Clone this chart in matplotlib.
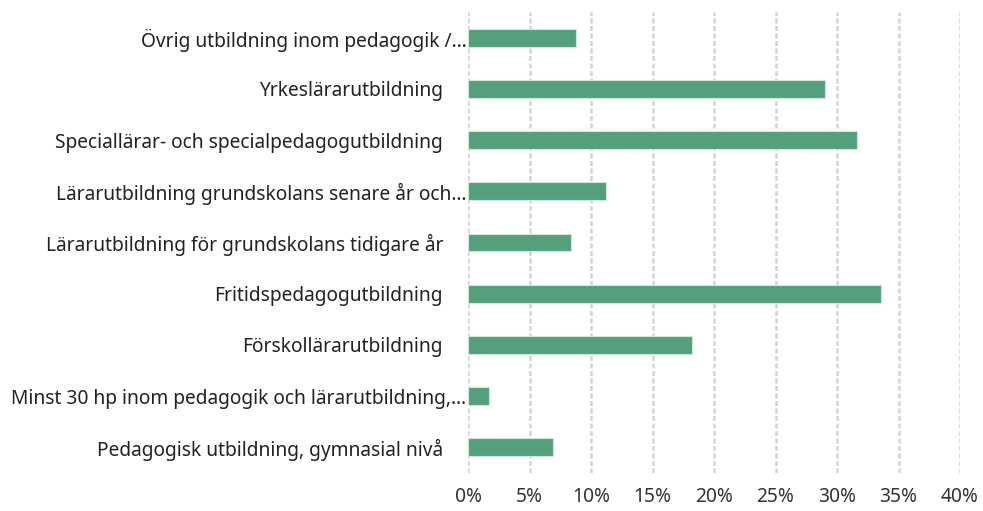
import matplotlib
matplotlib.use("Agg")
import matplotlib.pyplot as plt
from matplotlib.ticker import FuncFormatter

categories = [
    "Övrig utbildning inom pedagogik /…",
    "Yrkeslärarutbildning",
    "Speciallärar- och specialpedagogutbildning",
    "Lärarutbildning grundskolans senare år och…",
    "Lärarutbildning för grundskolans tidigare år",
    "Fritidspedagogutbildning",
    "Förskollärarutbildning",
    "Minst 30 hp inom pedagogik och lärarutbildning,…",
    "Pedagogisk utbildning, gymnasial nivå",
]
values = [8.8, 29.0, 31.6, 11.2, 8.4, 33.6, 18.2, 1.7, 6.9]
xticks = [0, 5, 10, 15, 20, 25, 30, 35, 40]

plt.rcParams['font.family'] = ['Noto Sans', 'DejaVu Sans']

fig = plt.figure(figsize=(9.83, 5.11), dpi=100)
ax = fig.add_axes([468/983, 1 - 473/511, (960-468)/983, (473-12)/511])

y = list(range(len(categories)))
ax.barh(y, values, height=0.35, color="#55a07c", edgecolor="#cfe6da", linewidth=0.8, zorder=3)

ax.set_xlim(0, 40)
ax.set_ylim(len(categories) - 0.5, -0.5)
ax.set_xticks(xticks)
ax.xaxis.set_major_formatter(FuncFormatter(lambda v, p: f"{v:.0f}%"))
ax.set_yticks(y)
ax.set_yticklabels(categories, fontsize=13.8, color="#222222")
ax.tick_params(axis='x', labelsize=13.8, colors="#333333", length=0, pad=10)
ax.tick_params(axis='y', length=0, pad=18)
for i, lab in enumerate(categories):
    if lab.endswith("…"):
        ax.yaxis.get_major_ticks()[i].set_pad(1)

ax.grid(axis='x', color="#d4d4d4", linestyle=(0, (2, 1)), linewidth=1.8, zorder=0)
ax.grid(axis='y', visible=False)
for s in ax.spines.values():
    s.set_visible(False)

fig.savefig("out.png", dpi=100)
